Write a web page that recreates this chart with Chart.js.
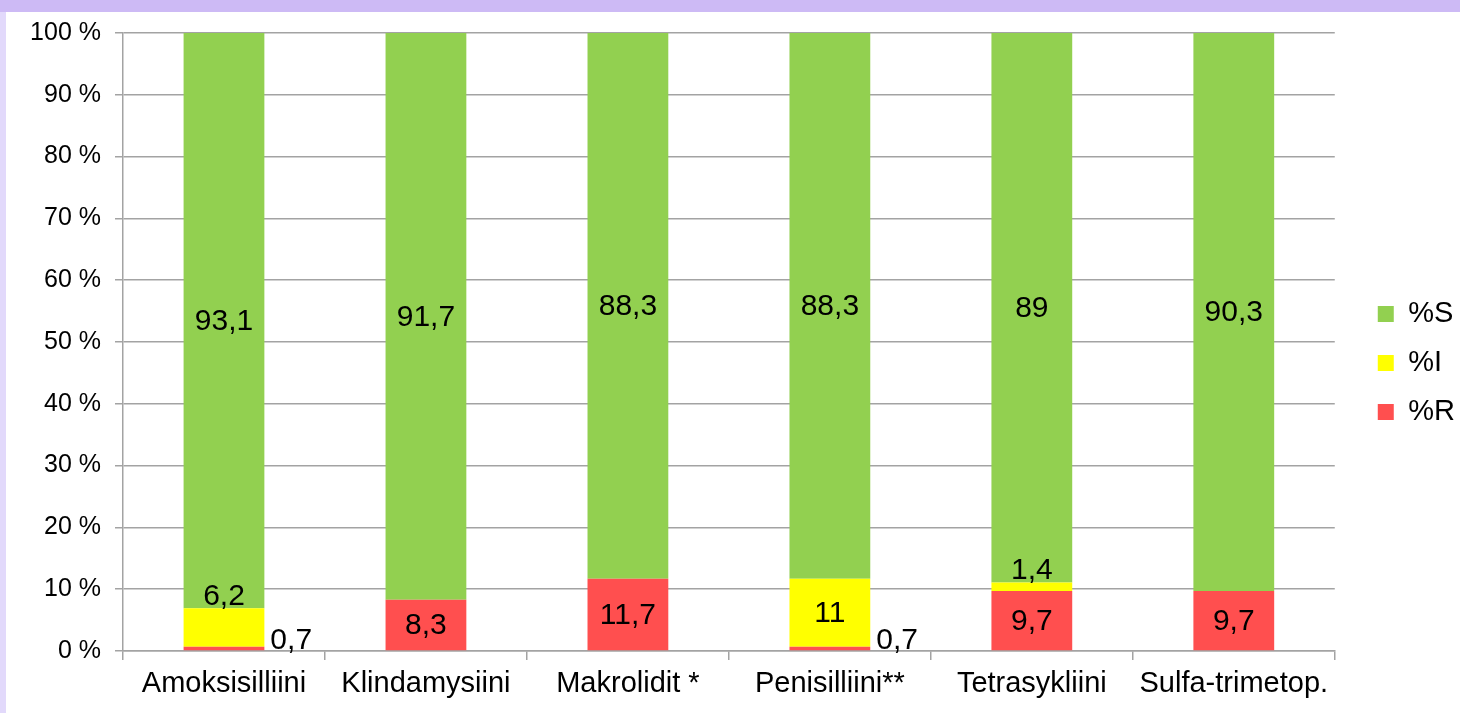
<!DOCTYPE html>
<html>
<head>
<meta charset="utf-8">
<script src="https://cdn.jsdelivr.net/npm/chart.js@4.4.1/dist/chart.umd.min.js"></script>
<style>
	html, body {
		margin: 0;
		padding: 0;
		background: #ffffff;
		width: 1460px;
		height: 713px;
		overflow: hidden;
	}
	.yla-reuna {
		position: absolute;
		left: 0;
		top: 0;
		width: 1460px;
		height: 12px;
		background: #cdbaf5;
	}
	.vasen-reuna {
		position: absolute;
		left: 0;
		top: 12px;
		width: 6px;
		height: 701px;
		background: #e2d9fb;
	}
	.grafiikka {
		position: absolute;
		left: 6px;
		top: 12px;
		width: 1454px;
		height: 701px;
	}
</style>
</head>
<body>
<div class="yla-reuna"></div>
<div class="vasen-reuna"></div>
<div class="grafiikka"><canvas id="herkkyysGrafiikka"></canvas></div>
<script>
const antibiootit = [
	'Amoksisilliini',
	'Klindamysiini',
	'Makrolidit *',
	'Penisilliini**',
	'Tetrasykliini',
	'Sulfa-trimetop.',
]
const resistentit = [0.7, 8.3, 11.7, 0.7, 9.7, 9.7] // %R
const intermediaatit = [6.2, 0, 0, 11, 1.4, 0] // %I
const herkat = [93.1, 91.7, 88.3, 88.3, 89, 90.3] // %S
const yTikit = [0, 10, 20, 30, 40, 50, 60, 70, 80, 90, 100]

const fontti = '"Liberation Sans", Arial, sans-serif'
const viivaVari = '#a3a3a3'

// Arvojen tekstit palkkien päälle / viereen
const arvoTekstit = {
	id: 'arvoTekstit',
	afterDatasetsDraw(chart) {
		const ctx = chart.ctx
		ctx.save()
		ctx.font = '30px ' + fontti
		ctx.fillStyle = '#000000'
		chart.data.datasets.forEach((ds, i) => {
			const meta = chart.getDatasetMeta(i)
			meta.data.forEach((palkki, j) => {
				const arvo = ds.data[j]
				if (!arvo) return
				const teksti = String(arvo).replace('.', ',')
				const korkeus = palkki.base - palkki.y
				if (korkeus >= 45) {
					ctx.textAlign = 'center'
					ctx.textBaseline = 'middle'
					ctx.fillText(teksti, palkki.x, (palkki.y + palkki.base) / 2 + 1)
				} else if (i === 0) {
					// pieni alin osa: palkin oikealle puolelle
					ctx.textAlign = 'left'
					ctx.textBaseline = 'alphabetic'
					ctx.fillText(teksti, palkki.x + palkki.width / 2 + 6, palkki.base - 1)
				} else {
					// pieni osa: yläpuolelle
					ctx.textAlign = 'center'
					ctx.textBaseline = 'alphabetic'
					ctx.fillText(teksti, palkki.x, palkki.y - 3)
				}
			})
		})
		ctx.restore()
	},
}

// Selite hieman oikealle ja ylös
const seliteSiirto = {
	id: 'seliteSiirto',
	afterLayout(chart) {
		const selite = chart.legend
		selite.left += 23
		selite.right += 23
		selite.top -= 10
		selite.bottom -= 10
	},
}

const ctx = document.getElementById('herkkyysGrafiikka').getContext('2d')
const herkkyysChart = new Chart(ctx, {
	type: 'bar',
	data: {
		labels: antibiootit,
		datasets: [
			{
				label: '%R',
				data: resistentit,
				backgroundColor: '#ff4f4f',
			},
			{
				label: '%I',
				data: intermediaatit,
				backgroundColor: '#ffff00',
			},
			{
				label: '%S',
				data: herkat,
				backgroundColor: '#92d050',
			},
		],
	},
	options: {
		responsive: true,
		maintainAspectRatio: false,
		animation: false,
		datasets: {
			bar: {
				categoryPercentage: 1,
				barPercentage: 0.4,
				borderWidth: 0,
			},
		},
		layout: {
			padding: { top: 21, right: 18, bottom: 0, left: 0 },
		},
		plugins: {
			legend: {
				position: 'right',
				reverse: true,
				labels: {
					boxWidth: 16,
					boxHeight: 16,
					padding: 20,
					color: '#000000',
					font: { family: fontti, size: 29 },
				},
			},
			tooltip: { enabled: false },
		},
		scales: {
			x: {
				stacked: true,
				afterFit: (skaala) => {
					skaala.height = 62
				},
				border: { color: viivaVari, width: 1.5 },
				grid: {
					offset: true,
					drawOnChartArea: false,
					color: viivaVari,
					lineWidth: 1.5,
					tickLength: 9,
				},
				ticks: {
					color: '#000000',
					padding: 7,
					font: { family: fontti, size: 29 },
				},
			},
			y: {
				stacked: true,
				min: 0,
				max: 100,
				afterFit: (skaala) => {
					skaala.width = 117
					skaala.paddingTop = 0
					skaala.paddingBottom = 0
				},
				afterBuildTicks: (skaala) => {
					skaala.ticks = yTikit.map((v) => ({ value: v }))
				},
				border: { color: viivaVari, width: 1.5 },
				grid: {
					color: viivaVari,
					lineWidth: 1.5,
					tickLength: 8,
				},
				ticks: {
					color: '#000000',
					padding: 14,
					font: { family: fontti, size: 25 },
					callback: (v) => v + ' %',
				},
			},
		},
	},
	plugins: [arvoTekstit, seliteSiirto],
})
</script>
</body>
</html>
